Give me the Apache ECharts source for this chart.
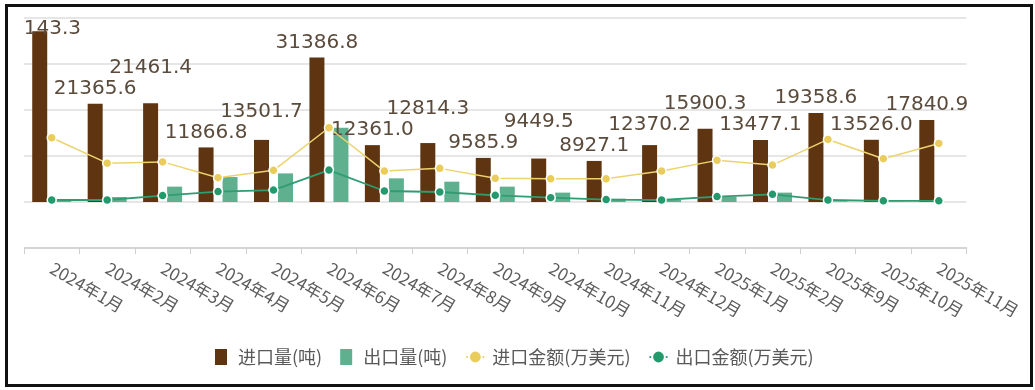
<!DOCTYPE html>
<html>
<head>
<meta charset="utf-8">
<script src="https://cdn.jsdelivr.net/npm/echarts@6/dist/echarts.min.js"></script>
<style>
  html, body { margin: 0; padding: 0; background: #ffffff; width: 1035px; height: 390px; overflow: hidden; }
  #frame { position: absolute; left: 5px; top: 4px; width: 1028px; height: 383px; border: 3px solid #111; box-sizing: border-box; pointer-events: none; z-index: 2; }
  #chart { position: absolute; left: 24px; top: 0; width: 1000px; height: 390px; z-index: 1; }
</style>
</head>
<body>
<div id="chart"></div>
<div id="frame"></div>
<script>
const categories = ['2024年1月','2024年2月','2024年3月','2024年4月','2024年5月','2024年6月','2024年7月','2024年8月','2024年9月','2024年10月','2024年11月','2024年12月','2025年1月','2025年2月','2025年9月','2025年10月','2025年11月'];
const importQty = [37143.3, 21365.6, 21461.4, 11866.8, 13501.7, 31386.8, 12361.0, 12814.3, 9585.9, 9449.5, 8927.1, 12370.2, 15900.3, 13477.1, 19358.6, 13526.0, 17840.9];
const exportQty = [540, 1080, 3340, 5420, 6220, 16140, 5140, 4420, 3340, 2040, 740, 430, 1130, 2040, 150, 80, 0];
const importAmt = [1397, 844, 872, 529, 688, 1614, 672, 731, 514, 503, 503, 672, 905, 803, 1360, 941, 1273];
const exportAmt = [43, 43, 139, 226, 260, 694, 239, 217, 145, 95, 52, 43, 117, 167, 43, 26, 26];
const seriesNames = ['进口量(吨)', '出口量(吨)', '进口金额(万美元)', '出口金额(万美元)'];

const LABEL_FONT = 20;
const LABEL_FAMILY = '"DejaVu Sans", sans-serif';
const GRID_TOP = 18;

const chart = echarts.init(document.getElementById('chart'), null, { renderer: 'canvas' });
chart.setOption({
  animation: false,
  textStyle: { fontFamily: '"Noto Sans CJK SC", "Noto Sans", sans-serif' },
  grid: { left: 0, width: 947, top: GRID_TOP, bottom: 142, containLabel: false },
  legend: {
    bottom: 19,
    left: 186,
    itemGap: 18,
    itemWidth: 18,
    itemHeight: 16,
    textStyle: { color: '#595959', fontSize: 18, fontFamily: '"Noto Sans CJK SC", sans-serif', padding: [0, 0, 0, 3] },
    data: [
      { name: seriesNames[0], icon: 'path://M0,0H12V16H0Z' },
      { name: seriesNames[1], icon: 'path://M0,0H12V16H0Z' },
      { name: seriesNames[2] },
      { name: seriesNames[3] }
    ]
  },
  xAxis: {
    type: 'category',
    data: categories,
    boundaryGap: true,
    axisLine: { onZero: false, lineStyle: { color: '#cfcfcf', width: 1.5 } },
    axisTick: { show: true, length: 6, lineStyle: { color: '#cfcfcf' } },
    axisLabel: { rotate: -30, color: '#5c5c5c', fontSize: 17, margin: 19, interval: 0, fontFamily: '"Noto Sans CJK SC", sans-serif' }
  },
  yAxis: [
    {
      type: 'value', min: -10000, max: 40000, interval: 10000,
      axisLabel: { show: false }, axisLine: { show: false }, axisTick: { show: false },
      splitLine: { show: true, lineStyle: { color: '#dedede', width: 1.5 } }
    },
    {
      type: 'value', min: -1000, max: 4000, interval: 1000, show: false,
      splitLine: { show: false }
    }
  ],
  series: [
    {
      name: seriesNames[0], type: 'bar', data: importQty, barWidth: 15, barGap: '60%',
      itemStyle: { color: '#5f3511' },
      label: {
        show: true, position: 'top', distance: 5, fontSize: LABEL_FONT, color: '#5a4b3c',
        fontFamily: LABEL_FAMILY,
        formatter: p => Number(p.value).toFixed(1)
      },
      z: 2
    },
    {
      name: seriesNames[1], type: 'bar', data: exportQty, barWidth: 15,
      itemStyle: { color: '#5eb08f' },
      z: 2
    },
    {
      name: seriesNames[2], type: 'line', yAxisIndex: 1, data: importAmt,
      symbol: 'circle', symbolSize: 9,
      lineStyle: { color: '#ecd36e', width: 1.5 },
      itemStyle: { color: '#e9cc5c', borderColor: '#ffffff', borderWidth: 1.5 },
      z: 3
    },
    {
      name: seriesNames[3], type: 'line', yAxisIndex: 1, data: exportAmt,
      symbol: 'circle', symbolSize: 9,
      lineStyle: { color: '#2f9c72', width: 1.8 },
      itemStyle: { color: '#239a6c', borderColor: '#ffffff', borderWidth: 1.5 },
      z: 4
    }
  ]
});

// Resolve overlapping value labels: keep them inside the grid top, and lift a label
// above its left neighbour when the two would collide.
(function layoutLabels() {
  const ctx = document.createElement('canvas').getContext('2d');
  ctx.font = LABEL_FONT + 'px ' + LABEL_FAMILY;
  const boxH = LABEL_FONT;
  const placed = [];
  const offsets = [];
  importQty.forEach((v, i) => {
    const px = chart.convertToPixel({ xAxisIndex: 0, yAxisIndex: 0 }, [i, v]);
    const x = px[0];
    const w = ctx.measureText(v.toFixed(1)).width;
    const natural = px[1] - 5 - boxH / 2;
    let y = Math.max(natural, GRID_TOP + boxH / 2 + 1);
    for (let iter = 0; iter < 20; iter++) {
      let moved = false;
      for (const p of placed) {
        if (Math.abs(p.x - x) < (p.w + w) / 2 && Math.abs(p.y - y) < 19) {
          y = p.y - 21;
          moved = true;
        }
      }
      if (!moved) break;
    }
    placed.push({ x, y, w });
    offsets.push(y - natural);
  });
  chart.setOption({
    series: [{
      data: importQty.map((v, i) => ({ value: v, label: { offset: [0, offsets[i]] } }))
    }]
  });
})();
</script>
</body>
</html>
